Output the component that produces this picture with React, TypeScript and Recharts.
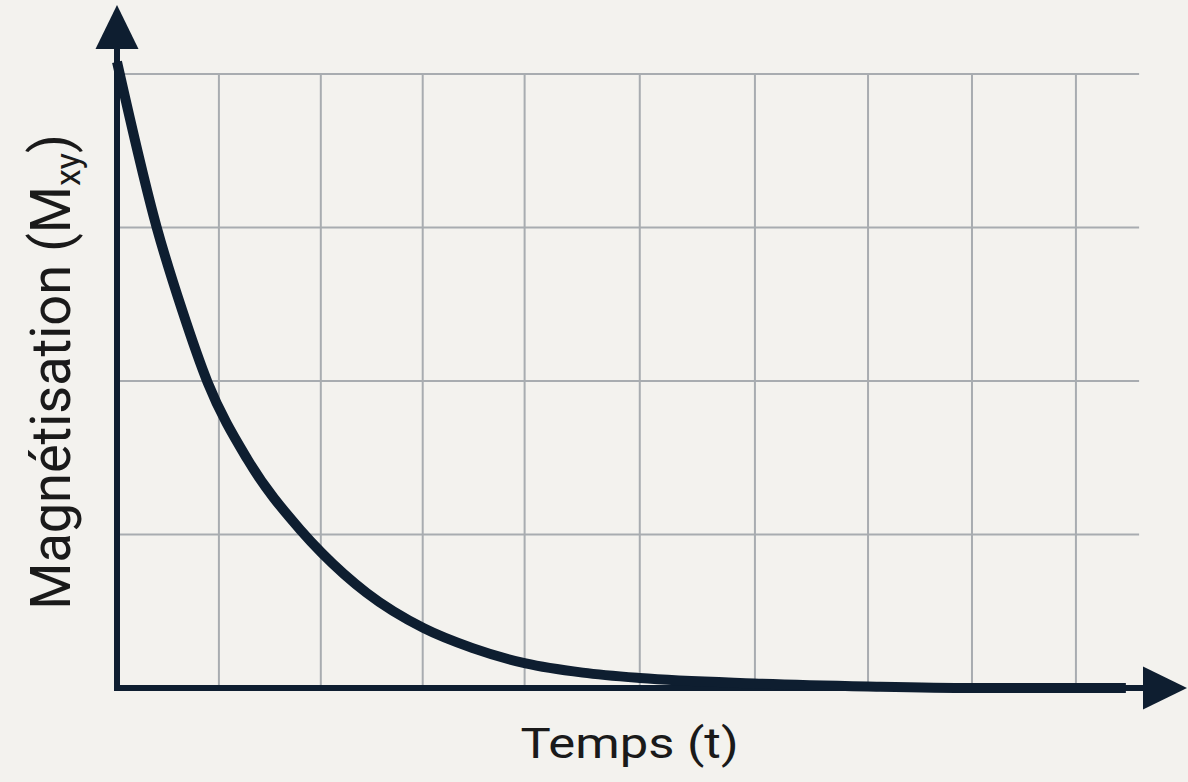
import { LineChart, Line, XAxis, YAxis, ReferenceLine } from "recharts";

// time (t) and transverse magnetisation Mxy
const times = [0, 0.39, 0.64, 0.89, 1.28, 1.8, 2.01, 2.45, 3.01, 3.49, 4.01, 4.57, 5.13, 6.25, 7.37, 8.39, 9.9];
const mxy = [4.08, 3.0, 2.46, 1.99, 1.49, 1.03, 0.88, 0.62, 0.39, 0.26, 0.16, 0.1, 0.065, 0.03, 0.01, 0.0, 0.0];

const gridX = [1, 2, 3, 4, 5.13, 6.26, 7.37, 8.39, 9.41];
const gridY = [1, 2, 3, 4];
const gridXEnd = 10.03;

const xMax = 10.5;
const yMax = 4.45;

const data = times.map((t, i) => ({ t, mxy: mxy[i] }));

const INK = "#0e1e30";
const GRID = "#a8acb0";
const BG = "#f3f2ee";

const Arrow = (props: any) => {
  const { x1, y1, x2, y2 } = props;
  if ([x1, y1, x2, y2].some((v) => typeof v !== "number" || isNaN(v))) return null;
  const dx = x2 - x1;
  const dy = y2 - y1;
  const len = Math.sqrt(dx * dx + dy * dy) || 1;
  const ux = dx / len;
  const uy = dy / len;
  const headLen = 44;
  const half = 21.5;
  const bx = x2 - ux * headLen;
  const by = y2 - uy * headLen;
  const px = -uy;
  const py = ux;
  return (
    <g>
      <line x1={x1} y1={y1} x2={bx + ux * 2} y2={by + uy * 2} stroke={INK} strokeWidth={6} strokeLinecap="square" />
      <polygon
        points={`${x2},${y2} ${bx + px * half},${by + py * half} ${bx - px * half},${by - py * half}`}
        fill={INK}
      />
    </g>
  );
};

const XLabel = (props: any) => {
  const vb = props.viewBox || { x: 117, y: 688, width: 1070, height: 94 };
  const cx = vb.x + vb.width * 0.479;
  const by = vb.y + 70;
  return (
    <text
      transform={`translate(${cx},${by}) scale(1.18,1)`}
      textAnchor="middle"
      fontFamily="Roboto, 'Noto Sans', sans-serif"
      fontSize={43}
      fill="#1a1a1a"
    >
      Temps (t)
    </text>
  );
};

const YLabel = () => {
  return (
    <text
      transform="translate(70,372) scale(1.04,1) rotate(-90)"
      textAnchor="middle"
      fontFamily="Roboto, 'Noto Sans', sans-serif"
      fontSize={54}
      fill="#1a1a1a"
    >
      Magnétisation (M
      <tspan fontSize={34} dy={10}>xy</tspan>
      <tspan dy={-10}>)</tspan>
    </text>
  );
};

export default function App() {
  return (
    <div style={{ position: "absolute", left: 0, top: 0, width: 1188, height: 782, background: BG }}>
      <LineChart width={1188} height={782} data={data} margin={{ top: 5, right: 1, bottom: 0, left: 0 }}>
        <XAxis
          dataKey="t"
          type="number"
          domain={[0, xMax]}
          ticks={[]}
          tick={false}
          tickLine={false}
          axisLine={false}
          height={94}
          label={<XLabel />}
        />
        <YAxis
          type="number"
          domain={[0, yMax]}
          ticks={[]}
          tick={false}
          tickLine={false}
          axisLine={false}
          width={117}
          label={<YLabel />}
        />
        {gridY.map((v) => (
          <ReferenceLine
            key={`h${v}`}
            segment={[{ x: 0, y: v }, { x: gridXEnd, y: v }]}
            stroke={GRID}
            strokeWidth={2}
          />
        ))}
        {gridX.map((v) => (
          <ReferenceLine
            key={`v${v}`}
            segment={[{ x: v, y: 0 }, { x: v, y: 4 }]}
            stroke={GRID}
            strokeWidth={2}
          />
        ))}
        <ReferenceLine segment={[{ x: 0, y: 0 }, { x: 0, y: yMax }]} shape={<Arrow />} />
        <ReferenceLine segment={[{ x: 0, y: 0 }, { x: xMax, y: 0 }]} shape={<Arrow />} />
        <Line
          type="monotone"
          dataKey="mxy"
          stroke={INK}
          strokeWidth={10}
          dot={false}
          activeDot={false}
          isAnimationActive={false}
        />
      </LineChart>
    </div>
  );
}
